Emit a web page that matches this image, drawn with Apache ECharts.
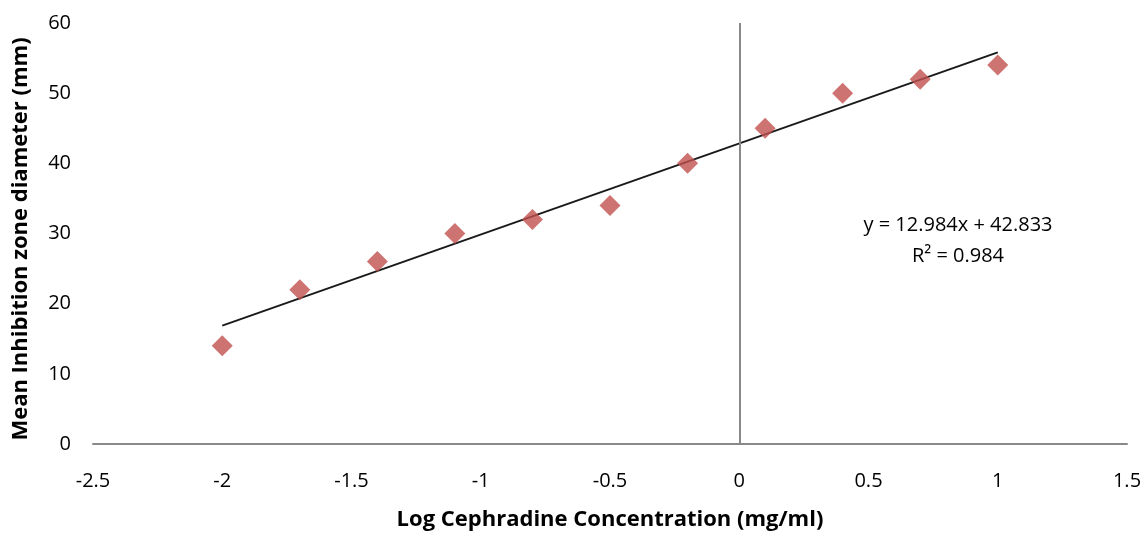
<!DOCTYPE html>
<html>
<head>
<meta charset="utf-8">
<script src="https://cdn.jsdelivr.net/npm/echarts@6/dist/echarts.min.js"></script>
<style>
  html, body { margin: 0; padding: 0; background: #fff; }
  #chart { width: 1143px; height: 533px; }
</style>
</head>
<body>
<div id="chart"></div>
<script>
// Log concentration (x) and mean inhibition zone diameter (y, mm)
const logConc = [-2, -1.7, -1.4, -1.1, -0.8, -0.5, -0.2, 0.1, 0.4, 0.7, 1.0];
const zoneDiameter = [14, 22, 26, 30, 32, 34, 40, 45, 50, 52, 54];

// Tick values along the x axis
const xTicks = [-2.5, -2, -1.5, -1, -0.5, 0, 0.5, 1, 1.5];

// Linear trendline parameters
const slope = 12.984;
const intercept = 42.833;
const rSquared = 0.984;

const xTitle = 'Log Cephradine Concentration (mg/ml)';
const yTitle = 'Mean Inhibition zone diameter (mm)';

const FONT = '"Open Sans", Lato, sans-serif';

const points = logConc.map((x, i) => [x, zoneDiameter[i]]);
const xFirst = logConc[0];
const xLast = logConc[logConc.length - 1];
const trend = [[xFirst, slope * xFirst + intercept], [xLast, slope * xLast + intercept]];

const chart = echarts.init(document.getElementById('chart'));
chart.setOption({
  animation: false,
  backgroundColor: '#ffffff',
  grid: { left: 93, right: 16, top: 23, bottom: 89, containLabel: false, outerBoundsMode: 'none' },
  xAxis: {
    type: 'value',
    min: xTicks[0], max: xTicks[xTicks.length - 1], interval: 0.5,
    axisLine: { onZero: false, lineStyle: { color: '#898989', width: 2 } },
    axisTick: { show: false },
    splitLine: { show: false },
    axisLabel: { show: false }
  },
  yAxis: {
    type: 'value',
    min: 0, max: 60, interval: 10,
    axisLine: { show: false },
    axisTick: { show: false },
    splitLine: { show: false },
    axisLabel: { fontFamily: FONT, fontSize: 20, color: '#000', margin: 22 }
  },
  series: [
    {
      type: 'line',
      data: trend,
      symbol: 'none',
      lineStyle: { color: '#1a1a1a', width: 2 },
      silent: true,
      z: 3,
      markLine: {
        silent: true,
        symbol: 'none',
        label: { show: false },
        lineStyle: { color: '#898989', width: 2, type: 'solid' },
        data: [{ xAxis: 0 }]
      }
    },
    {
      type: 'scatter',
      data: points,
      symbol: 'diamond',
      symbolSize: 21,
      itemStyle: { color: '#C0504D' },
      z: 4
    }
  ],
  graphic: [
    {
      id: 'yTitle',
      type: 'text',
      x: 21, y: 239,
      rotation: Math.PI / 2,
      style: {
        text: yTitle,
        fontFamily: FONT, fontWeight: 'bold', fontSize: 22, fill: '#000',
        align: 'center', verticalAlign: 'middle'
      }
    },
    {
      id: 'xTitle',
      type: 'text',
      x: 610, y: 520,
      style: {
        text: xTitle,
        fontFamily: FONT, fontWeight: 'bold', fontSize: 22, fill: '#000',
        align: 'center', verticalAlign: 'middle'
      }
    },
    {
      id: 'eq',
      type: 'text',
      x: 958, y: 225,
      style: {
        text: 'y = ' + slope.toFixed(3) + 'x + ' + intercept.toFixed(3),
        fontFamily: FONT, fontSize: 20, fill: '#000',
        align: 'center', verticalAlign: 'middle'
      }
    },
    {
      id: 'r2',
      type: 'text',
      x: 958, y: 256,
      style: {
        text: 'R² = ' + rSquared.toFixed(3),
        fontFamily: FONT, fontSize: 20, fill: '#000',
        align: 'center', verticalAlign: 'middle'
      }
    }
  ]
});

// X tick labels, placed through the axis scale a fixed distance below the axis line
const axisY = chart.convertToPixel({ yAxisIndex: 0 }, 0);
chart.setOption({
  graphic: xTicks.map((v, i) => ({
    id: 'xtick' + i,
    type: 'text',
    x: chart.convertToPixel({ xAxisIndex: 0 }, v),
    y: axisY + 37,
    style: {
      text: String(v),
      fontFamily: FONT, fontSize: 20, fill: '#000',
      align: 'center', verticalAlign: 'middle'
    }
  }))
});
</script>
</body>
</html>
